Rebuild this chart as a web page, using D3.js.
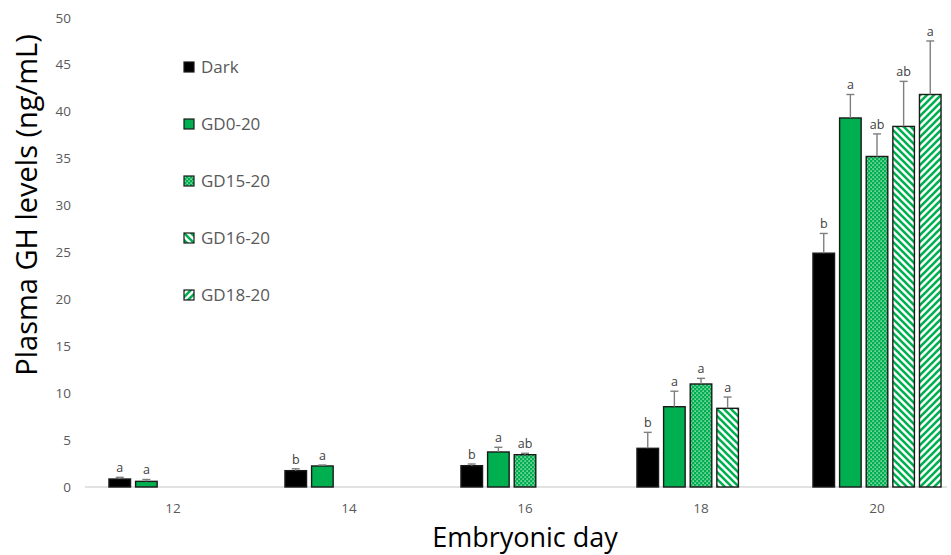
<!DOCTYPE html>
<html>
<head>
<meta charset="utf-8">
<script src="https://cdn.jsdelivr.net/npm/d3@7"></script>
<style>
body { margin:0; background:#fff; }
text { font-family: "Open Sans", sans-serif; }
</style>
</head>
<body>
<svg id="chart" width="951" height="555"></svg>
<script>
// embryonic days and treatment groups
var days = ["12", "14", "16", "18", "20"];
var groups = ["Dark", "GD0-20", "GD15-20", "GD16-20", "GD18-20"];

// mean plasma GH (ng/mL), null = not measured
var darkVals = [0.85, 1.74, 2.27, 4.12, 24.9];
var gd0Vals = [0.6, 2.24, 3.73, 8.55, 39.3];
var gd15Vals = [null, null, 3.44, 10.97, 35.2];
var gd16Vals = [null, null, null, 8.38, 38.4];
var gd18Vals = [null, null, null, null, 41.8];

// upper error bars
var darkErr = [0.18, 0.2, 0.18, 1.7, 2.1];
var gd0Err = [0.2, 0.1, 0.5, 1.65, 2.5];
var gd15Err = [null, null, 0.15, 0.6, 2.4];
var gd16Err = [null, null, null, 1.2, 4.8];
var gd18Err = [null, null, null, null, 5.7];

// significance letters
var darkSig = ["a", "b", "b", "b", "b"];
var gd0Sig = ["a", "a", "a", "a", "a"];
var gd15Sig = [null, null, "ab", "a", "ab"];
var gd16Sig = [null, null, null, "a", "ab"];
var gd18Sig = [null, null, null, null, "a"];

var yTicks = [0, 5, 10, 15, 20, 25, 30, 35, 40, 45, 50];

var vals = [darkVals, gd0Vals, gd15Vals, gd16Vals, gd18Vals];
var errs = [darkErr, gd0Err, gd15Err, gd16Err, gd18Err];
var sigs = [darkSig, gd0Sig, gd15Sig, gd16Sig, gd18Sig];

var svg = d3.select("#chart");
var green = "#00b050";

// patterns
var defs = svg.append("defs");
var dots = defs.append("pattern").attr("id", "p2").attr("patternUnits", "userSpaceOnUse")
    .attr("width", 4).attr("height", 4);
dots.append("rect").attr("width", 4).attr("height", 4).attr("fill", green);
dots.append("rect").attr("x", 0.5).attr("y", 0.5).attr("width", 1.2).attr("height", 1.2).attr("fill", "#f0fbf4");
dots.append("rect").attr("x", 2.5).attr("y", 2.5).attr("width", 1.2).attr("height", 1.2).attr("fill", "#f0fbf4");

function stripes(id, dir) {
    var p = defs.append("pattern").attr("id", id).attr("patternUnits", "userSpaceOnUse")
        .attr("width", 7).attr("height", 7);
    p.append("rect").attr("width", 7).attr("height", 7).attr("fill", "#fff");
    var d = dir > 0 ? "M-2,2 l4,-4 M0,7 l7,-7 M5,9 l4,-4" : "M-2,5 l4,4 M0,0 l7,7 M5,-2 l4,4";
    p.append("path").attr("d", d).attr("stroke", green).attr("stroke-width", 2.6);
}
stripes("p3", -1);
stripes("p4", 1);

var fills = ["#000", green, "url(#p2)", "url(#p3)", "url(#p4)"];

var x = d3.scaleBand().domain(days).range([85, 965]).padding(0);
var xs = d3.scaleBand().domain(groups).range([0, x.bandwidth()])
    .paddingInner(0.19).paddingOuter(0.9);
var y = d3.scaleLinear().domain([0, 50]).range([487, 17.5]);

// axis line
svg.append("line").attr("x1", 85).attr("x2", 947)
    .attr("y1", y(0)).attr("y2", y(0))
    .attr("stroke", "#d9d9d9").attr("stroke-width", 1.3);

// y tick labels
svg.selectAll(".ytick").data(yTicks).enter().append("text")
    .attr("x", 71).attr("y", function(d){ return y(d) + 5; })
    .attr("text-anchor", "end").attr("font-size", 13.5).attr("fill", "#595959")
    .text(function(d){ return d; });

// x tick labels
svg.selectAll(".xtick").data(days).enter().append("text")
    .attr("x", function(d){ return x(d) + x.bandwidth() / 2; }).attr("y", 513)
    .attr("text-anchor", "middle").attr("font-size", 13.5).attr("fill", "#595959")
    .text(function(d){ return d; });

// flatten data
var data = [];
groups.forEach(function(g, gi) {
    days.forEach(function(day, di) {
        if (vals[gi][di] == null) return;
        data.push({group: g, gi: gi, day: day, v: vals[gi][di], e: errs[gi][di], s: sigs[gi][di]});
    });
});

var bars = svg.append("g");
bars.selectAll("rect").data(data).enter().append("rect")
    .attr("x", function(d){ return x(d.day) + xs(d.group); })
    .attr("y", function(d){ return y(d.v); })
    .attr("width", xs.bandwidth())
    .attr("height", function(d){ return y(0) - y(d.v); })
    .attr("fill", function(d){ return fills[d.gi]; })
    .attr("stroke", "#1a1a1a").attr("stroke-width", 1.4);

// error bars
var eb = svg.append("g").attr("stroke", "#7f7f7f").attr("stroke-width", 1.4);
data.forEach(function(d) {
    var cx = x(d.day) + xs(d.group) + xs.bandwidth() / 2;
    eb.append("line").attr("x1", cx).attr("x2", cx).attr("y1", y(d.v)).attr("y2", y(d.v + d.e));
    eb.append("line").attr("x1", cx - 4).attr("x2", cx + 4).attr("y1", y(d.v + d.e)).attr("y2", y(d.v + d.e));
});

// letters
svg.selectAll(".sig").data(data).enter().append("text")
    .attr("x", function(d){ return x(d.day) + xs(d.group) + xs.bandwidth() / 2; })
    .attr("y", function(d){ return y(d.v + d.e) - 5; })
    .attr("text-anchor", "middle").attr("font-size", 12.5).attr("fill", "#404040")
    .text(function(d){ return d.s; });

// legend
var lg = svg.selectAll(".leg").data(groups).enter().append("g")
    .attr("transform", function(d, i){ return "translate(184," + (62 + i * 57) + ")"; });
lg.append("rect").attr("width", 10).attr("height", 10)
    .attr("fill", function(d, i){ return fills[i]; })
    .attr("stroke", "#1a1a1a").attr("stroke-width", 1.2);
lg.append("text").attr("x", 17).attr("y", 11).attr("font-size", 17).attr("fill", "#595959")
    .text(function(d){ return d; });

// axis titles
svg.append("text").attr("transform", "translate(37,205) rotate(-90)")
    .attr("text-anchor", "middle").attr("font-size", 29).attr("fill", "#000")
    .text("Plasma GH levels (ng/mL)");
svg.append("text").attr("x", 525).attr("y", 547)
    .attr("text-anchor", "middle").attr("font-size", 27).attr("fill", "#000")
    .text("Embryonic day");
</script>
</body>
</html>
